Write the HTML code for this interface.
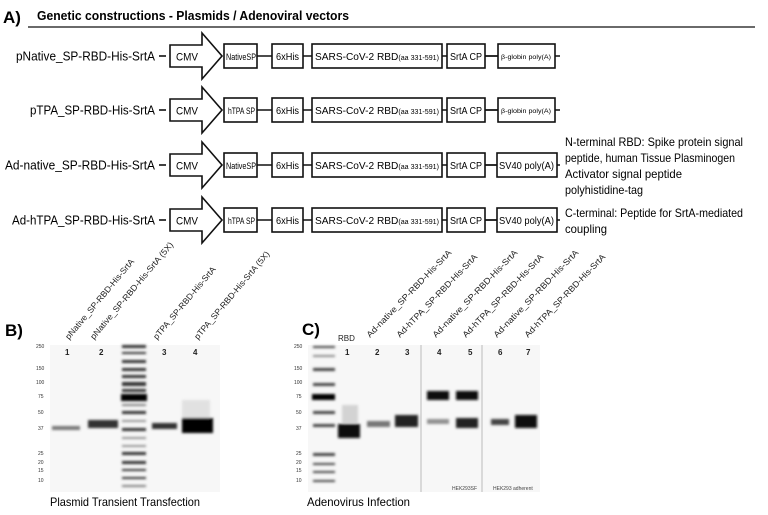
<!DOCTYPE html>
<html><head><meta charset="utf-8"><style>
html,body{margin:0;padding:0;background:#fff;}
svg{display:block;font-family:"Liberation Sans",sans-serif;}
</style></head><body>
<svg width="768" height="515" viewBox="0 0 768 515" xmlns="http://www.w3.org/2000/svg">
<defs>
<filter id="bl" x="-30%" y="-200%" width="160%" height="500%"><feGaussianBlur stdDeviation="1.4"/></filter>
<filter id="bs" x="-30%" y="-200%" width="160%" height="500%"><feGaussianBlur stdDeviation="0.7"/></filter>
<g id="row">
 <g stroke="#111" stroke-width="1.6" fill="#fff">
  <line x1="159" y1="0" x2="166" y2="0"/>
  <line x1="257" y1="0" x2="500" y2="0"/>
  <polygon points="170,-11 202,-11 202,-23 222,0 202,23 202,11 170,11"/>
  <rect x="224" y="-12" width="33" height="24"/>
  <rect x="272" y="-12" width="31" height="24"/>
  <rect x="312" y="-12" width="130" height="24"/>
  <rect x="447" y="-12" width="38" height="24"/>
 </g>
 <text x="176" y="4.5" font-size="11" textLength="22" lengthAdjust="spacingAndGlyphs">CMV</text>
 <text x="276" y="4" font-size="10" textLength="23" lengthAdjust="spacingAndGlyphs">6xHis</text>
 <text x="315" y="4" font-size="10" textLength="124" lengthAdjust="spacingAndGlyphs">SARS-CoV-2 RBD<tspan font-size="7">(aa 331-591)</tspan></text>
 <text x="450" y="4" font-size="10" textLength="32" lengthAdjust="spacingAndGlyphs">SrtA CP</text>
</g>
</defs>
<text x="3" y="23" font-size="17" font-weight="bold">A)</text>
<text x="37" y="20" font-size="12.5" font-weight="bold" textLength="312" lengthAdjust="spacingAndGlyphs">Genetic constructions - Plasmids / Adenoviral vectors</text>
<line x1="28" y1="27" x2="755" y2="27" stroke="#111" stroke-width="1.2"/>

<g transform="translate(0,56)">
 <line x1="485" y1="0" x2="560" y2="0" stroke="#111" stroke-width="1.6"/>
 <use href="#row"/>
 <rect x="498" y="-12" width="57" height="24" fill="#fff" stroke="#111" stroke-width="1.6"/>
 <text x="501" y="3" font-size="6.5" textLength="50" lengthAdjust="spacingAndGlyphs">β-globin poly(A)</text>
 <text x="226" y="4" font-size="9" textLength="30" lengthAdjust="spacingAndGlyphs">NativeSP</text>
 <text x="16" y="4.5" font-size="13" textLength="139" lengthAdjust="spacingAndGlyphs">pNative_SP-RBD-His-SrtA</text>
</g>
<g transform="translate(0,110)">
 <line x1="485" y1="0" x2="560" y2="0" stroke="#111" stroke-width="1.6"/>
 <use href="#row"/>
 <rect x="498" y="-12" width="57" height="24" fill="#fff" stroke="#111" stroke-width="1.6"/>
 <text x="501" y="3" font-size="6.5" textLength="50" lengthAdjust="spacingAndGlyphs">β-globin poly(A)</text>
 <text x="228" y="4" font-size="9" textLength="27" lengthAdjust="spacingAndGlyphs">hTPA SP</text>
 <text x="30" y="4.5" font-size="13" textLength="125" lengthAdjust="spacingAndGlyphs">pTPA_SP-RBD-His-SrtA</text>
</g>
<g transform="translate(0,165)">
 <line x1="485" y1="0" x2="560" y2="0" stroke="#111" stroke-width="1.6"/>
 <use href="#row"/>
 <rect x="497" y="-12" width="60" height="24" fill="#fff" stroke="#111" stroke-width="1.6"/>
 <text x="499" y="4" font-size="10.5" textLength="55" lengthAdjust="spacingAndGlyphs">SV40 poly(A)</text>
 <text x="226" y="4" font-size="9" textLength="30" lengthAdjust="spacingAndGlyphs">NativeSP</text>
 <text x="5" y="4.5" font-size="13" textLength="150" lengthAdjust="spacingAndGlyphs">Ad-native_SP-RBD-His-SrtA</text>
</g>
<g transform="translate(0,220)">
 <line x1="485" y1="0" x2="560" y2="0" stroke="#111" stroke-width="1.6"/>
 <use href="#row"/>
 <rect x="497" y="-12" width="60" height="24" fill="#fff" stroke="#111" stroke-width="1.6"/>
 <text x="499" y="4" font-size="10.5" textLength="55" lengthAdjust="spacingAndGlyphs">SV40 poly(A)</text>
 <text x="228" y="4" font-size="9" textLength="27" lengthAdjust="spacingAndGlyphs">hTPA SP</text>
 <text x="12" y="4.5" font-size="13" textLength="143" lengthAdjust="spacingAndGlyphs">Ad-hTPA_SP-RBD-His-SrtA</text>
</g>
<g font-size="12">
 <text x="565" y="146" textLength="178" lengthAdjust="spacingAndGlyphs">N-terminal RBD: Spike protein signal</text>
 <text x="565" y="162" textLength="170" lengthAdjust="spacingAndGlyphs">peptide, human Tissue Plasminogen</text>
 <text x="565" y="178" textLength="117" lengthAdjust="spacingAndGlyphs">Activator signal peptide</text>
 <text x="565" y="194" textLength="78" lengthAdjust="spacingAndGlyphs">polyhistidine-tag</text>
 <text x="565" y="217" textLength="178" lengthAdjust="spacingAndGlyphs">C-terminal: Peptide for SrtA-mediated</text>
 <text x="565" y="233" textLength="42" lengthAdjust="spacingAndGlyphs">coupling</text>
</g>

<!-- B -->
<text x="5" y="336" font-size="17" font-weight="bold">B)</text>
<rect x="50" y="345" width="170" height="147" fill="#f7f7f7"/>
<g font-size="5" fill="#333">
 <text x="36" y="348">250</text><text x="36" y="370">150</text><text x="36" y="384">100</text>
 <text x="38" y="398">75</text><text x="38" y="414">50</text><text x="38" y="430">37</text>
 <text x="38" y="455">25</text><text x="38" y="464">20</text><text x="38" y="472">15</text><text x="38" y="482">10</text>
</g>
<g fill="#333" filter="url(#bl)">
 <rect x="122" y="345" width="24" height="3"/><rect x="122" y="352" width="24" height="2"/>
 <rect x="122" y="360" width="24" height="3"/><rect x="122" y="368" width="24" height="3"/>
 <rect x="122" y="375" width="24" height="3"/><rect x="122" y="382" width="24" height="4"/>
 <rect x="122" y="389" width="24" height="3"/><rect x="121" y="394" width="26" height="7" fill="#000"/>
 <rect x="122" y="404" width="24" height="2" opacity=".6"/><rect x="122" y="411" width="24" height="3"/>
 <rect x="122" y="420" width="24" height="2" opacity=".5"/><rect x="122" y="428" width="24" height="3"/>
 <rect x="122" y="437" width="24" height="2" opacity=".5"/><rect x="122" y="445" width="24" height="2" opacity=".5"/>
 <rect x="122" y="452" width="24" height="3"/><rect x="122" y="461" width="24" height="3"/>
 <rect x="122" y="469" width="24" height="2"/><rect x="122" y="477" width="24" height="2"/>
 <rect x="122" y="485" width="24" height="2" opacity=".6"/>
</g>
<g filter="url(#bl)">
 <rect x="52" y="426" width="28" height="4" fill="#444" opacity=".7"/>
 <rect x="88" y="420" width="30" height="8" fill="#333"/>
 <rect x="152" y="423" width="25" height="6" fill="#333"/>
 <rect x="182" y="400" width="28" height="18" fill="#ccc" opacity=".5"/>
 <rect x="182" y="418" width="31" height="15" fill="#000"/>
</g>
<g font-size="8" font-weight="bold" fill="#222">
 <text x="65" y="355">1</text><text x="99" y="355">2</text><text x="162" y="355">3</text><text x="193" y="355">4</text>
</g>
<g font-size="8.5" fill="#222">
 <text transform="translate(69,340) rotate(-50)" textLength="102" lengthAdjust="spacingAndGlyphs">pNative_SP-RBD-His-SrtA</text>
 <text transform="translate(94,340) rotate(-50)" textLength="124" lengthAdjust="spacingAndGlyphs">pNative_SP-RBD-His-SrtA (5X)</text>
 <text transform="translate(157,340) rotate(-50)" textLength="92" lengthAdjust="spacingAndGlyphs">pTPA_SP-RBD-His-SrtA</text>
 <text transform="translate(198,340) rotate(-50)" textLength="112" lengthAdjust="spacingAndGlyphs">pTPA_SP-RBD-His-SrtA (5X)</text>
</g>
<text x="50" y="506" font-size="12" textLength="150" lengthAdjust="spacingAndGlyphs">Plasmid Transient Transfection</text>

<!-- C -->
<text x="302" y="335" font-size="17" font-weight="bold">C)</text>
<rect x="308" y="345" width="232" height="147" fill="#f7f7f7"/>
<line x1="421" y1="345" x2="421" y2="492" stroke="#bbb" stroke-width="1"/>
<line x1="482" y1="345" x2="482" y2="492" stroke="#bbb" stroke-width="1"/>
<g font-size="5" fill="#333">
 <text x="294" y="348">250</text><text x="294" y="370">150</text><text x="294" y="384">100</text>
 <text x="296" y="398">75</text><text x="296" y="414">50</text><text x="296" y="430">37</text>
 <text x="296" y="455">25</text><text x="296" y="464">20</text><text x="296" y="472">15</text><text x="296" y="482">10</text>
</g>
<g fill="#444" filter="url(#bl)">
 <rect x="313" y="346" width="22" height="2"/><rect x="313" y="355" width="22" height="2" opacity=".6"/>
 <rect x="313" y="368" width="22" height="3"/><rect x="313" y="383" width="22" height="3"/>
 <rect x="312" y="394" width="23" height="6" fill="#000"/><rect x="313" y="411" width="22" height="3"/>
 <rect x="313" y="424" width="22" height="3"/><rect x="313" y="453" width="22" height="3"/>
 <rect x="313" y="463" width="22" height="2"/><rect x="313" y="471" width="22" height="2"/>
 <rect x="313" y="480" width="22" height="2"/>
</g>
<g filter="url(#bl)">
 <rect x="342" y="405" width="16" height="18" fill="#bbb" opacity=".6"/>
 <rect x="338" y="424" width="22" height="14" fill="#111"/>
 <rect x="367" y="421" width="23" height="6" fill="#555" opacity=".8"/>
 <rect x="395" y="415" width="23" height="12" fill="#222"/>
 <rect x="427" y="391" width="22" height="9" fill="#111"/>
 <rect x="427" y="419" width="22" height="5" fill="#666" opacity=".7"/>
 <rect x="456" y="391" width="22" height="9" fill="#111"/>
 <rect x="456" y="418" width="22" height="10" fill="#222"/>
 <rect x="491" y="419" width="18" height="6" fill="#444"/>
 <rect x="515" y="415" width="22" height="13" fill="#111"/>
</g>
<text x="338" y="341" font-size="8" fill="#222">RBD</text>
<g font-size="8" font-weight="bold" fill="#222">
 <text x="345" y="355">1</text><text x="375" y="355">2</text><text x="405" y="355">3</text>
 <text x="437" y="355">4</text><text x="468" y="355">5</text><text x="498" y="355">6</text><text x="526" y="355">7</text>
</g>
<g font-size="8.5" fill="#222">
 <text transform="translate(370,338) rotate(-46)" textLength="118" lengthAdjust="spacingAndGlyphs">Ad-native_SP-RBD-His-SrtA</text>
 <text transform="translate(400,338) rotate(-46)" textLength="112" lengthAdjust="spacingAndGlyphs">Ad-hTPA_SP-RBD-His-SrtA</text>
 <text transform="translate(436,338) rotate(-46)" textLength="118" lengthAdjust="spacingAndGlyphs">Ad-native_SP-RBD-His-SrtA</text>
 <text transform="translate(466,338) rotate(-46)" textLength="112" lengthAdjust="spacingAndGlyphs">Ad-hTPA_SP-RBD-His-SrtA</text>
 <text transform="translate(497,338) rotate(-46)" textLength="118" lengthAdjust="spacingAndGlyphs">Ad-native_SP-RBD-His-SrtA</text>
 <text transform="translate(528,338) rotate(-46)" textLength="112" lengthAdjust="spacingAndGlyphs">Ad-hTPA_SP-RBD-His-SrtA</text>
</g>
<text x="452" y="490" font-size="5" fill="#444">HEK293SF</text>
<text x="493" y="490" font-size="5" fill="#444">HEK293 adherent</text>
<text x="307" y="506" font-size="12" textLength="103" lengthAdjust="spacingAndGlyphs">Adenovirus Infection</text>
</svg>
</body></html>
